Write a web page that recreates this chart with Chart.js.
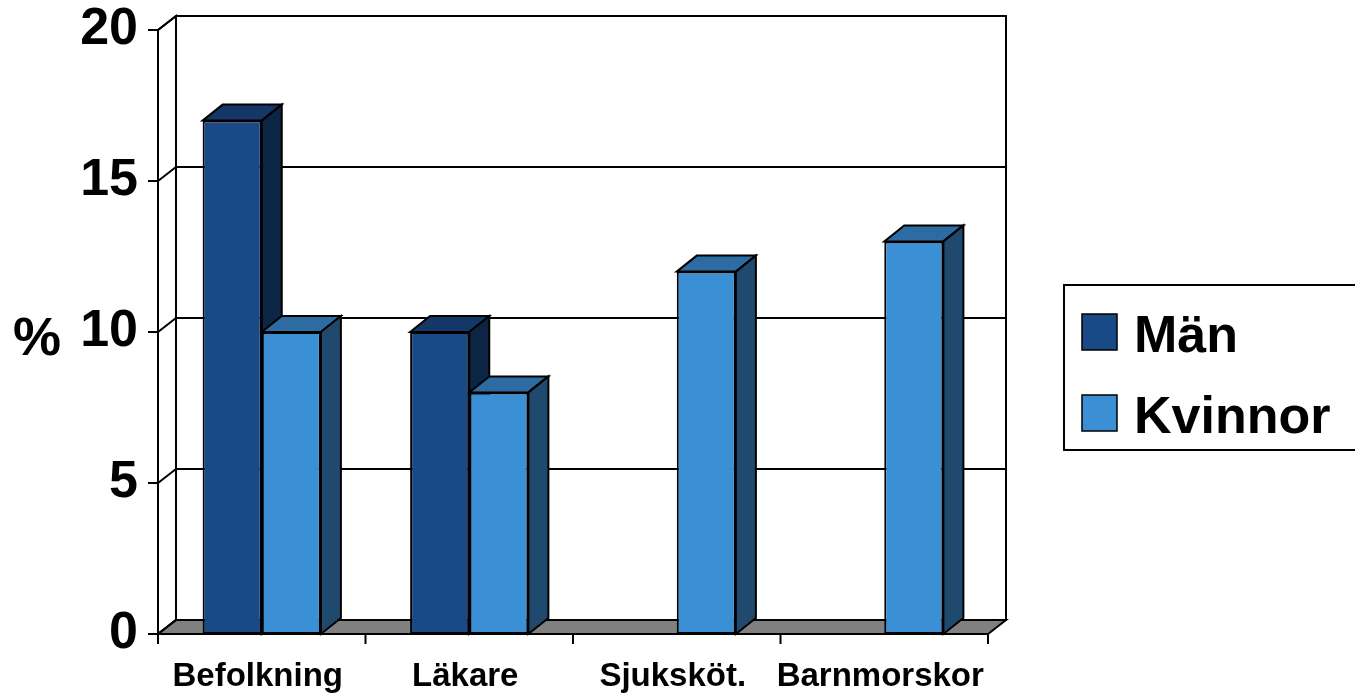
<!DOCTYPE html>
<html>
<head>
<meta charset="utf-8">
<script src="https://cdn.jsdelivr.net/npm/chart.js@4.4.1/dist/chart.umd.min.js"></script>
<style>
  html, body { margin: 0; padding: 0; background: #fff; overflow: hidden; }
  #wrap { width: 1355px; height: 695px; }
</style>
</head>
<body>
<div id="wrap"><canvas id="chart"></canvas></div>
<script>
// data
const categories = ["Befolkning", "Läkare", "Sjuksköt.", "Barnmorskor"];
const manValues = [17, 10, null, null];
const kvinnorValues = [10, 8, 12, 13];
const seriesNames = ["Män", "Kvinnor"];
const yTicks = [0, 5, 10, 15, 20];
const yTitle = "%";

// styles
const FONT = "'Liberation Sans', Arial, Helvetica, sans-serif";
const frontColors = ["#1a4a86", "#3b8fd5"];
const topColors = ["#143767", "#2d6ca3"];
const sideColors = ["#0d2544", "#1f4a6e"];
const WALL = { dx: 18, dy: -14 };
const BAR = { dx: 20, dy: -16 };

function poly(ctx, pts, fill) {
  ctx.beginPath();
  ctx.moveTo(pts[0][0], pts[0][1]);
  for (let i = 1; i < pts.length; i++) ctx.lineTo(pts[i][0], pts[i][1]);
  ctx.closePath();
  ctx.fillStyle = fill;
  ctx.fill();
  ctx.stroke();
}

function line(ctx, x0, y0, x1, y1) {
  ctx.beginPath();
  ctx.moveTo(x0, y0);
  ctx.lineTo(x1, y1);
  ctx.stroke();
}

// walls, floor, grid and the 3d faces of the bars
const threeD = {
  id: 'threeD',
  beforeDatasetsDraw(chart) {
    const ctx = chart.ctx;
    const xs = chart.scales.x, ys = chart.scales.y;
    const l = chart.chartArea.left, r = chart.chartArea.right;
    const b = ys.getPixelForValue(yTicks[0]);
    const t = ys.getPixelForValue(yTicks[yTicks.length - 1]);
    ctx.save();
    ctx.lineWidth = 2;
    ctx.strokeStyle = '#000';

    // back wall + left wall
    poly(ctx, [[l + WALL.dx, t + WALL.dy], [r + WALL.dx, t + WALL.dy], [r + WALL.dx, b + WALL.dy], [l + WALL.dx, b + WALL.dy]], '#fff');
    poly(ctx, [[l, t], [l + WALL.dx, t + WALL.dy], [l + WALL.dx, b + WALL.dy], [l, b]], '#fff');
    // floor
    poly(ctx, [[l, b], [r, b], [r + WALL.dx, b + WALL.dy], [l + WALL.dx, b + WALL.dy]], '#808080');

    yTicks.forEach(v => {
      const py = ys.getPixelForValue(v);
      line(ctx, l, py, l + WALL.dx, py + WALL.dy);
      if (v > 0) line(ctx, l + WALL.dx, py + WALL.dy, r + WALL.dx, py + WALL.dy);
      line(ctx, l - 10, py, l, py);
    });
    line(ctx, l, t, l, b);
    line(ctx, l, b, r, b);

    const step = xs.getPixelForValue(1) - xs.getPixelForValue(0);
    for (let i = 0; i <= categories.length; i++) {
      const px = xs.getPixelForValue(i) - step / 2;
      line(ctx, px, b, px, b + 10);
    }

    categories.forEach((c, i) => {
      chart.data.datasets.forEach((ds, d) => {
        const el = chart.getDatasetMeta(d).data[i];
        if (ds.data[i] == null || !el) return;
        const p = el.getProps(['x', 'y', 'width', 'base'], true);
        const x0 = p.x - p.width / 2, x1 = p.x + p.width / 2;
        poly(ctx, [[x0, p.y], [x1, p.y], [x1 + BAR.dx, p.y + BAR.dy], [x0 + BAR.dx, p.y + BAR.dy]], topColors[d]);
        poly(ctx, [[x1, p.y], [x1 + BAR.dx, p.y + BAR.dy], [x1 + BAR.dx, p.base + BAR.dy], [x1, p.base]], sideColors[d]);
      });
    });
    ctx.restore();
  },
  afterDraw(chart) {
    const ctx = chart.ctx;
    ctx.save();
    ctx.fillStyle = '#000';
    ctx.font = `bold 54px ${FONT}`;
    ctx.textBaseline = 'alphabetic';
    ctx.fillText(yTitle, 13, 355);

    // legend box
    ctx.lineWidth = 2;
    ctx.strokeStyle = '#000';
    ctx.strokeRect(1064, 285, 320, 165);
    chart.data.datasets.forEach((ds, i) => {
      const base = 352 + i * 81;
      ctx.fillStyle = ds.backgroundColor;
      ctx.fillRect(1082, base - 38, 35, 36);
      ctx.lineWidth = 1.5;
      ctx.strokeRect(1082, base - 38, 35, 36);
      ctx.fillStyle = '#000';
      ctx.font = `bold 52px ${FONT}`;
      ctx.fillText(ds.label, 1134, base);
    });
    ctx.restore();
  }
};

const data = {
  labels: categories,
  datasets: [
    { label: seriesNames[0], data: manValues, backgroundColor: frontColors[0] },
    { label: seriesNames[1], data: kvinnorValues, backgroundColor: frontColors[1] }
  ].map(ds => Object.assign(ds, {
    borderColor: '#000',
    borderWidth: 2,
    borderSkipped: false,
    categoryPercentage: 0.57,
    barPercentage: 1
  }))
};

function noPad(scale) {
  scale.paddingTop = 0;
  scale.paddingBottom = 0;
  scale.paddingLeft = 0;
  scale.paddingRight = 0;
}

const config = {
  type: 'bar',
  data,
  options: {
    responsive: true,
    maintainAspectRatio: false,
    animation: false,
    layout: { padding: { top: 30, right: 367, left: 0, bottom: 0 } },
    plugins: {
      legend: { display: false },
      tooltip: { enabled: false }
    },
    scales: {
      x: {
        offset: true,
        grid: { display: false, drawTicks: false },
        border: { display: false },
        ticks: {
          color: '#000',
          font: { family: FONT, size: 33, weight: 'bold', lineHeight: 1 },
          padding: 26,
          labelOffset: -4,
          maxRotation: 0,
          autoSkip: false
        },
        afterFit(scale) { scale.height = 61; noPad(scale); }
      },
      y: {
        min: 0,
        max: 20,
        grid: { display: false, drawTicks: false },
        border: { display: false },
        ticks: {
          stepSize: 5,
          color: '#000',
          font: { family: FONT, size: 52, weight: 'bold', lineHeight: 1 },
          padding: 20
        },
        afterFit(scale) { scale.width = 158; noPad(scale); }
      }
    }
  },
  plugins: [threeD]
};

// render init block
const chart = new Chart(document.getElementById('chart').getContext('2d'), config);
</script>
</body>
</html>
